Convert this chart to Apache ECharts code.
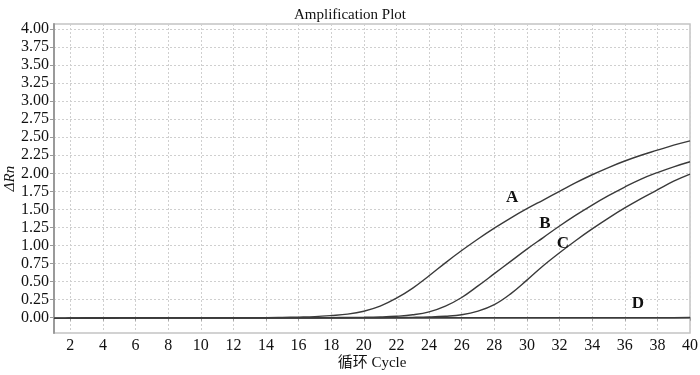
<!DOCTYPE html>
<html>
<head>
<meta charset="utf-8">
<script src="https://cdn.jsdelivr.net/npm/echarts@6/dist/echarts.min.js"></script>
<style>
  html, body { margin: 0; padding: 0; background: #fff; }
  #chart { width: 700px; height: 375px; }
</style>
</head>
<body>
<div id="chart"></div>
<script>
const cycles = [1, 2, 3, 4, 5, 6, 7, 8, 9, 10, 11, 12, 13, 14, 15, 16, 17, 18, 19, 20,
  21, 22, 23, 24, 25, 26, 27, 28, 29, 30, 31, 32, 33, 34, 35, 36, 37, 38, 39, 40];

const curveA = [-0.01, -0.008, -0.005, -0.004, -0.003, -0.002, -0.002, -0.001, -0.001, 0, 0, 0, 0, 0, 0.003, 0.008, 0.015, 0.03, 0.05, 0.09,
  0.16, 0.27, 0.41, 0.58, 0.76, 0.93, 1.09, 1.24, 1.38, 1.51, 1.63, 1.75, 1.87, 1.98, 2.08, 2.17, 2.25, 2.32, 2.39, 2.45];
const curveB = [-0.01, -0.008, -0.005, -0.004, -0.003, -0.002, -0.002, -0.001, -0.001, 0, 0, 0, 0, 0, 0, 0, 0, 0.001, 0.003, 0.005,
  0.01, 0.02, 0.04, 0.08, 0.16, 0.28, 0.44, 0.61, 0.78, 0.95, 1.11, 1.27, 1.42, 1.56, 1.69, 1.81, 1.92, 2.01, 2.09, 2.16];
const curveC = [-0.01, -0.008, -0.005, -0.004, -0.003, -0.002, -0.002, -0.001, -0.001, 0, 0, 0, 0, 0, 0, 0, 0, 0, 0, 0,
  0, 0.002, 0.005, 0.01, 0.02, 0.04, 0.09, 0.18, 0.33, 0.52, 0.72, 0.90, 1.07, 1.23, 1.38, 1.52, 1.65, 1.77, 1.89, 1.99];
const curveD = [-0.01, -0.008, -0.005, -0.004, -0.003, -0.002, -0.002, -0.001, -0.001, 0, 0, 0, 0, 0, 0, 0, 0, 0, 0, 0,
  0, 0, 0, 0, 0, 0, 0, 0, 0, 0, 0, 0, 0, 0, 0, 0, 0, 0, 0, 0.002];

const xTicks = [2, 4, 6, 8, 10, 12, 14, 16, 18, 20, 22, 24, 26, 28, 30, 32, 34, 36, 38, 40];
const yTicks = [0, 0.25, 0.5, 0.75, 1, 1.25, 1.5, 1.75, 2, 2.25, 2.5, 2.75, 3, 3.25, 3.5, 3.75, 4];

// curve name and where its letter sits (cycle, ΔRn)
const curveNames = ["A", "B", "C", "D"];
const labelPos = [[29.1, 1.67], [31.1, 1.31], [32.2, 1.02], [36.8, 0.19]];

const serif = '"Liberation Serif", "Times New Roman", "Noto Sans CJK SC", serif';
const lineColor = "#3a3a3a";

const chart = echarts.init(document.getElementById("chart"));

const curves = [curveA, curveB, curveC, curveD];

chart.setOption({
  animation: false,
  title: {
    text: "Amplification Plot",
    left: "center",
    top: 3,
    textStyle: { fontFamily: serif, fontSize: 15, fontWeight: "normal", color: "#111" }
  },
  grid: {
    left: 54, right: 10, top: 24, bottom: 42,
    outerBoundsMode: "none",
    containLabel: false,
    show: true,
    borderColor: "#c4c4c4",
    borderWidth: 1.5
  },
  xAxis: {
    type: "value",
    min: 1,
    max: 40,
    name: "循环 Cycle",
    nameLocation: "middle",
    nameGap: 23,
    nameMoveOverlap: false,
    nameTextStyle: { fontFamily: serif, fontSize: 15, color: "#111", verticalAlign: "top" },
    axisLine: { lineStyle: { color: "#9a9a9a", width: 2 } },
    axisTick: { customValues: xTicks, length: 3, lineStyle: { color: "#9a9a9a" } },
    axisLabel: {
      customValues: xTicks,
      fontFamily: serif,
      fontSize: 16,
      color: "#111",
      margin: 5
    },
    splitLine: { show: true, lineStyle: { color: "#cfcfcf", type: [2, 2], width: 1 } }
  },
  yAxis: {
    type: "value",
    min: -0.212,
    max: 4.068,
    name: "ΔRn",
    nameLocation: "middle",
    nameGap: 36,
    nameMoveOverlap: false,
    nameTextStyle: { fontFamily: serif, fontSize: 15, fontStyle: "italic", color: "#111" },
    axisLine: { show: true, lineStyle: { color: "#9a9a9a", width: 2 } },
    axisTick: { show: true, customValues: yTicks, length: 4, lineStyle: { color: "#9a9a9a" } },
    axisLabel: {
      customValues: yTicks,
      fontFamily: serif,
      fontSize: 16,
      color: "#111",
      margin: 5,
      formatter: (v) => v.toFixed(2)
    },
    splitLine: { show: true, lineStyle: { color: "#cfcfcf", type: [2, 2], width: 1 } }
  },
  series: curves.map((values, i) => ({
    name: curveNames[i],
    type: "line",
    data: cycles.map((c, k) => [c, values[k]]),
    smooth: 0.4,
    showSymbol: false,
    lineStyle: { color: lineColor, width: 1.4 },
    markPoint: {
      symbol: "circle",
      symbolSize: 1,
      itemStyle: { color: "rgba(0,0,0,0)" },
      data: [{ coord: labelPos[i], value: curveNames[i] }],
      label: {
        show: true,
        position: "inside",
        formatter: curveNames[i],
        fontFamily: serif,
        fontSize: 17,
        fontWeight: "bold",
        color: "#111"
      }
    }
  }))
});
</script>
</body>
</html>
